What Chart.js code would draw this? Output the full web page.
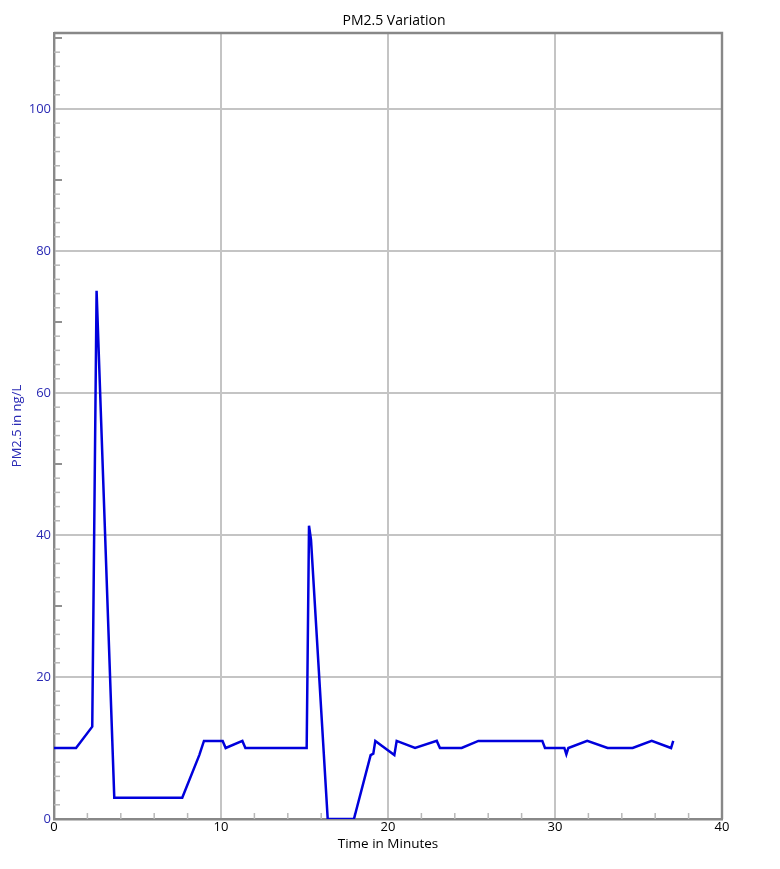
<!DOCTYPE html>
<html>
<head>
<meta charset="utf-8">
<script src="https://cdn.jsdelivr.net/npm/chart.js@4/dist/chart.umd.min.js"></script>
<style>
  body { margin: 0; background: #fff; }
  canvas { display: block; }
</style>
</head>
<body>
<canvas id="chartCanvas" width="780" height="869"></canvas>
<script>
// time in minutes and PM2.5 readings
var minutes = [0, 1.32, 2.29, 2.55, 3.61, 7.68, 8.70, 8.98, 10.10, 10.28, 11.28, 11.46,
	15.13, 15.27, 15.39, 16.39, 17.96, 18.96, 19.12, 19.24, 20.38, 20.52, 21.62, 22.92,
	23.11, 24.41, 25.41, 29.24, 29.40, 30.56, 30.68, 30.80, 31.93, 33.15, 34.65, 35.79,
	36.95, 37.08];
var pm25 = [10, 10, 13, 74.4, 3, 3, 9, 11, 11, 10, 11, 10,
	10, 41.3, 39.3, 0, 0, 9, 9.2, 11, 9, 11, 10, 11,
	10, 10, 11, 11, 10, 10, 9.1, 10, 11, 10, 10, 11,
	10, 11];
var xTicks = [0, 10, 20, 30, 40];
var yTicks = [0, 20, 40, 60, 80, 100];
var yMax = 110.7;

var points = minutes.map(function(m, i) { return { x: m, y: pm25[i] }; });

var axisGray = '#888888';
var gridGray = '#c4c4c4';
var labelBlue = '#2a2ab4';

// inward minor ticks (under the line) plus the top/right frame
var frameTicks = {
	id: 'frameTicks',
	beforeDatasetsDraw: function(chart) {
		var ctx = chart.ctx;
		var area = chart.chartArea;
		var xs = chart.scales.x;
		var ys = chart.scales.y;
		ctx.save();
		for (var v = 2; v < yMax; v += 2) {
			if (v % 20 === 0) continue;
			var py = ys.getPixelForValue(v);
			var big = v % 10 === 0;
			ctx.strokeStyle = big ? '#909090' : '#b8b8b8';
			ctx.lineWidth = big ? 2 : 1.5;
			ctx.beginPath();
			ctx.moveTo(area.left, py);
			ctx.lineTo(area.left + (big ? 8 : 6), py);
			ctx.stroke();
		}
		ctx.lineWidth = 1.5;
		ctx.strokeStyle = '#b8b8b8';
		for (var m = 2; m < 40; m += 2) {
			if (m % 10 === 0) continue;
			var px = xs.getPixelForValue(m);
			ctx.beginPath();
			ctx.moveTo(px, area.bottom);
			ctx.lineTo(px, area.bottom - 6);
			ctx.stroke();
		}
		ctx.restore();
	},
	afterDatasetsDraw: function(chart) {
		var ctx = chart.ctx;
		var area = chart.chartArea;
		ctx.save();
		ctx.strokeStyle = axisGray;
		ctx.lineWidth = 2.4;
		ctx.beginPath();
		ctx.moveTo(area.left, area.top);
		ctx.lineTo(area.right, area.top);
		ctx.lineTo(area.right, area.bottom);
		ctx.stroke();
		ctx.restore();
	}
};

var chartCanvas = document.getElementById('chartCanvas');
var chartObj = new Chart(chartCanvas, {
	type: 'line',
	data: {
		datasets: [{
			data: points,
			borderColor: '#0000dc',
			borderWidth: 2.5,
			pointRadius: 0,
			tension: 0,
			fill: false
		}]
	},
	options: {
		responsive: false,
		animation: false,
		layout: { padding: { left: 8, right: 0, top: 0, bottom: 0 } },
		plugins: {
			legend: { display: false },
			tooltip: { enabled: false },
			title: {
				display: true,
				text: 'PM2.5 Variation',
				color: '#000',
				font: { family: 'Open Sans', size: 14, weight: 'normal' },
				padding: { top: 13, bottom: 3.2 }
			}
		},
		scales: {
			x: {
				type: 'linear',
				min: 0,
				max: 40,
				afterFit: function(scale) { scale.height = 50; },
				afterBuildTicks: function(scale) {
					scale.ticks = xTicks.map(function(v) { return { value: v }; });
				},
				ticks: {
					color: '#000',
					font: { family: 'Open Sans', size: 13 },
					padding: 0,
					maxRotation: 0
				},
				grid: {
					drawTicks: false,
					lineWidth: 2,
					color: function(c) {
						var v = c.tick ? c.tick.value : 0;
						return (v === 0 || v === 40) ? 'rgba(0,0,0,0)' : gridGray;
					}
				},
				border: { display: true, color: axisGray, width: 2.4 },
				title: {
					display: true,
					text: 'Time in Minutes',
					color: '#000',
					font: { family: 'Open Sans', size: 13.5 },
					padding: { top: 0, bottom: 17 }
				}
			},
			y: {
				type: 'linear',
				min: 0,
				max: yMax,
				afterFit: function(scale) { scale.width = 46; },
				afterBuildTicks: function(scale) {
					scale.ticks = yTicks.map(function(v) { return { value: v }; });
				},
				ticks: {
					color: labelBlue,
					font: { family: 'Open Sans', size: 13 },
					padding: 3
				},
				grid: {
					drawTicks: false,
					lineWidth: 2,
					color: function(c) {
						var v = c.tick ? c.tick.value : 0;
						return v === 0 ? 'rgba(0,0,0,0)' : gridGray;
					}
				},
				border: { display: true, color: axisGray, width: 2.4 },
				title: {
					display: true,
					text: 'PM2.5 in ng/L',
					color: labelBlue,
					font: { family: 'Open Sans', size: 13 },
					padding: { top: 1, bottom: 0 }
				}
			},
			// empty right-hand axis that reserves the margin right of the plot
			yRight: {
				type: 'linear',
				position: 'right',
				min: 0,
				max: yMax,
				afterFit: function(scale) { scale.width = 58; },
				ticks: { display: false },
				grid: { display: false, drawTicks: false },
				border: { display: false }
			}
		}
	},
	plugins: [frameTicks]
});
</script>
</body>
</html>
